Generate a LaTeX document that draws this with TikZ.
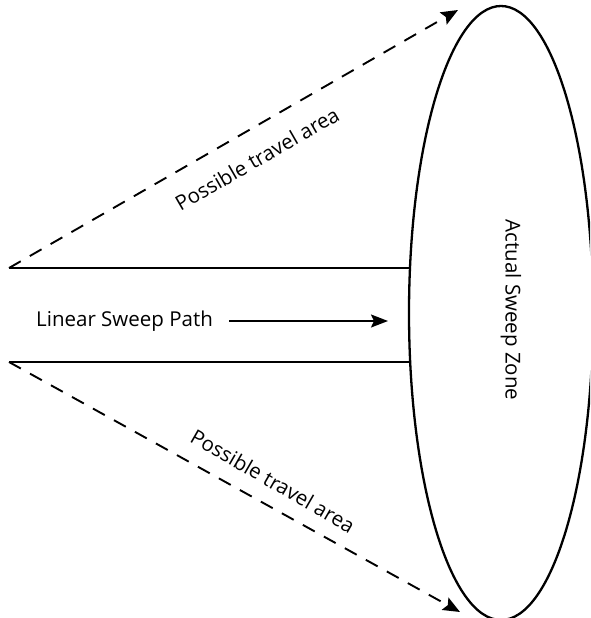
\documentclass[tikz,border=0pt]{standalone}
\usepackage{fontspec}
\setmainfont{Open Sans}
\usetikzlibrary{shapes.geometric,arrows.meta}
\begin{document}
\begin{tikzpicture}[x=1pt,y=-1pt,
  solidline/.style={line width=2.6pt},
  dashline/.style={line width=1.9pt,dash pattern=on 13.5pt off 10.5pt,-{Stealth[length=17pt,width=14pt,inset=3pt]}},
  lbl/.style={font=\fontsize{20.5}{24}\selectfont,inner sep=0pt}]
\useasboundingbox (0,0) rectangle (590,618);
\clip (0,0) rectangle (590,618);
\node[draw,ellipse,line width=2.3pt,minimum width=184pt,minimum height=614pt,inner sep=0pt] (zone) at (501,313) {};
\node[lbl,rotate=-90] (zlabel) at (511,310) {Actual Sweep Zone};
\coordinate (tl) at (9,268);
\coordinate (tr) at (410,268);
\coordinate (bl) at (9,362);
\coordinate (br) at (410,362);
\coordinate (ttip) at (458,10);
\coordinate (btip) at (460,612);
\draw[solidline] (tl) -- (tr);
\draw[solidline] (bl) -- (br);
\draw[dashline] (tl) -- (ttip);
\draw[dashline] (bl) -- (btip);
\node[lbl,anchor=west] (path) at (36,321) {Linear Sweep Path};
\coordinate (astart) at (229,321);
\coordinate (aend) at (388,321);
\draw[line width=1.8pt,-{Stealth[length=17pt,width=13pt,inset=3pt]}] (astart) -- (aend);
\node[lbl,rotate=30] (top) at (257,159) {Possible travel area};
\node[lbl,rotate=-30] (bot) at (273,481) {Possible travel area};
\end{tikzpicture}
\end{document}
